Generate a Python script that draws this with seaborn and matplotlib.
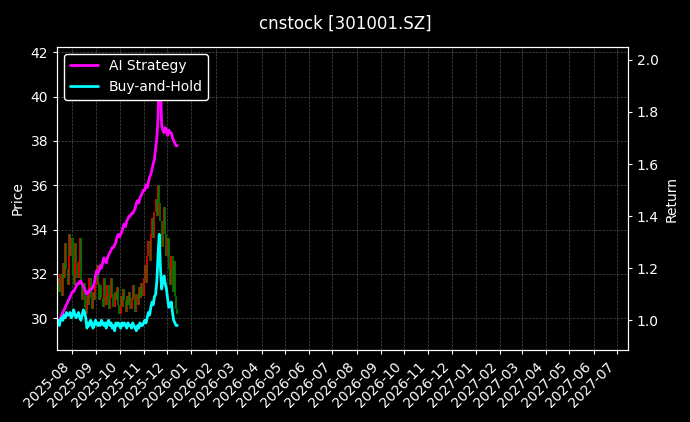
import matplotlib
matplotlib.use("Agg")
import matplotlib.pyplot as plt
import matplotlib.dates as mdates
import seaborn as sns
import pandas as pd
import numpy as np

ai_return = [1.00,1.00,1.01,1.02,1.03,1.04,1.05,1.06,1.07,1.08,
             1.09,1.10,1.11,1.11,1.12,1.13,1.14,1.14,1.15,1.15,
             1.14,1.13,1.12,1.11,1.10,1.11,1.11,1.12,1.12,1.13,
             1.14,1.17,1.19,1.18,1.19,1.21,1.20,1.22,1.24,1.23,
             1.22,1.24,1.25,1.26,1.27,1.28,1.28,1.29,1.30,1.32,
             1.33,1.32,1.33,1.34,1.36,1.37,1.36,1.38,1.39,1.40,
             1.40,1.41,1.41,1.42,1.43,1.45,1.46,1.45,1.47,1.48,
             1.49,1.50,1.50,1.52,1.51,1.53,1.55,1.56,1.58,1.60,
             1.62,1.66,1.70,1.78,1.95,1.90,1.75,1.73,1.72,1.74,
             1.73,1.71,1.73,1.72,1.72,1.70,1.69,1.68,1.67,1.67]
bh_return = [1.00,0.98,1.00,1.01,1.00,1.02,1.01,1.03,1.02,1.02,
             1.03,1.01,1.02,1.04,1.02,1.01,1.02,1.03,1.01,1.00,
             1.02,1.04,1.03,1.01,0.97,0.99,0.98,1.00,0.99,0.97,
             0.98,1.00,0.99,0.98,0.99,0.98,1.00,0.99,0.98,0.99,
             0.97,0.99,1.00,0.98,0.99,0.97,0.98,0.96,0.99,0.98,
             0.99,0.98,0.97,0.99,0.98,0.99,0.98,0.97,0.99,0.98,
             0.98,0.97,0.99,0.98,0.97,0.96,0.98,0.97,0.99,0.98,
             0.98,0.99,1.00,0.99,1.01,1.03,1.02,1.05,1.07,1.06,
             1.09,1.10,1.15,1.25,1.33,1.20,1.12,1.15,1.17,1.14,
             1.12,1.08,1.05,1.06,1.07,1.03,1.00,0.99,0.98,0.98]
close = [31.5,31.2,32.0,31.0,32.5,31.8,33.4,32.2,31.5,33.8,
         32.8,33.6,32.0,31.5,33.4,32.5,31.8,32.6,33.6,31.5,
         30.8,31.6,30.5,30.2,31.0,30.6,31.8,30.9,30.4,31.2,
         30.8,31.5,32.4,31.6,30.8,31.5,30.9,30.5,31.8,31.0,
         30.6,31.5,30.4,30.9,31.8,31.1,30.5,31.2,30.8,31.4,
         30.6,30.2,31.0,30.5,31.3,30.8,30.3,31.0,30.6,31.2,
         30.4,30.9,31.5,30.8,30.3,31.1,30.6,31.4,30.9,31.6,
         31.0,31.8,32.4,31.6,32.8,33.5,32.6,33.8,34.5,33.6,
         34.8,35.4,34.6,36.0,35.2,34.4,33.2,34.0,35.0,33.8,
         32.8,33.6,32.2,31.5,32.8,31.2,32.6,31.0,30.4,30.2]
first_open = 31.8

dates = pd.date_range("2025-07-14", "2025-12-14", periods=len(close))
opens = [first_open] + close[:-1]
df = pd.DataFrame({"date": dates, "open": opens, "close": close,
                   "AI Strategy": ai_return, "Buy-and-Hold": bh_return})

sns.set_style("dark")
plt.rcParams.update({"figure.facecolor": "black", "axes.facecolor": "black",
                     "text.color": "white", "axes.labelcolor": "white",
                     "xtick.color": "white", "ytick.color": "white",
                     "axes.edgecolor": "white"})
plt.rcParams['font.family'] = ['DejaVu Sans']

fig = plt.figure(figsize=(6.9, 4.22), dpi=100)
ax = fig.add_axes([0.083, 0.17, 0.827, 0.719])
ax2 = ax.twinx()

up = df["close"] >= df["open"]
ax.vlines(df["date"][up], df["open"][up], df["close"][up], color="red", linewidth=1.2)
ax.vlines(df["date"][~up], df["open"][~up], df["close"][~up], color="green", linewidth=1.2)
ax.set_ylim(28.55, 42.25)
ax.set_ylabel("Price")

sns.lineplot(data=df, x="date", y="AI Strategy", ax=ax2, color="magenta", linewidth=2, label="AI Strategy")
sns.lineplot(data=df, x="date", y="Buy-and-Hold", ax=ax2, color="cyan", linewidth=2, label="Buy-and-Hold")
ax2.set_ylim(0.885, 2.05)
ax2.set_ylabel("Return")
ax2.set_xlabel("")

ax.set_xlim(pd.Timestamp("2025-07-13"), pd.Timestamp("2027-07-15"))
ax.xaxis.set_major_locator(mdates.MonthLocator())
ax.xaxis.set_major_formatter(mdates.DateFormatter("%Y-%m"))
for lab in ax.get_xticklabels():
    lab.set_rotation(45); lab.set_ha("right")
ax.grid(True, color="gray", linestyle="--", linewidth=0.5, alpha=0.6)
ax.tick_params(left=True, bottom=True, length=3)
ax2.tick_params(right=True, length=3)
for a in (ax, ax2):
    for s in a.spines.values():
        s.set_color("white")

leg = ax2.legend(loc="upper left", facecolor="black", edgecolor="white", framealpha=1)
for t in leg.get_texts():
    t.set_color("white")

fig.suptitle("cnstock [301001.SZ]", color="white", fontsize=12, y=0.965)
fig.savefig("out.png", facecolor="black")
